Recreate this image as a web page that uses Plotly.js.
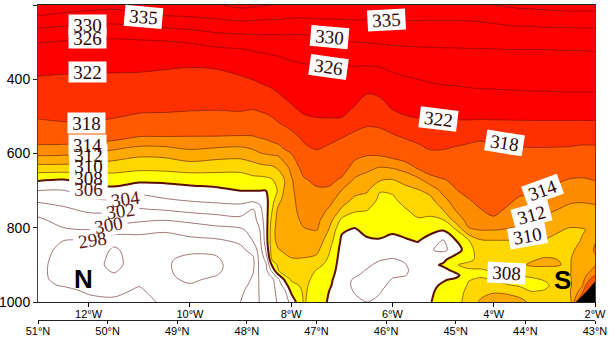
<!DOCTYPE html>
<html>
<head>
<meta charset="utf-8">
<script src="https://cdn.plot.ly/plotly-3.0.1.min.js"></script>
<style>html,body{margin:0;padding:0;background:#fff}#g{width:609px;height:338px}</style>
</head>
<body>
<div id="g"></div>
<script>
const lon = [-13,-12.5,-12,-11.5,-11,-10.5,-10,-9.5,-9,-8.75,-8.62,-8.5,-8.38,-8.25,-8.13,-8,-7.75,-7.5,-7.25,-7,-6.75,-6.5,-6.25,-6,-5.75,-5.5,-5.25,-5,-4.75,-4.5,-4.25,-4,-3.5,-3.25,-3,-2.5,-2.25,-2];
const pressure = [200,240,280,320,360,400,440,480,520,560,600,640,670,700,725,750,780,805,835,860,885,900,915,928,940,955,970,1000];
// potential temperature (K); one row per longitude, one value per pressure level
const theta = [
[339.5,333.3,327.5,324.8,323.2,321.7,320.3,319,317.5,315,312.5,309.1,306.3,304,302.4,300.9,299.6,299.2,299,298.9,298.8,298.7,298.6,298.5,298.4,298.3,298.4,298.6],
[338,332.3,327,324.6,323,321.5,320.3,319.1,317.8,315,312.4,309.1,306,303.9,302.7,301.7,300.7,299.8,298,297.4,297,296.9,297,297.2,297.5,297.9,298.4,299],
[337,331.7,326.8,324.5,322.9,321.4,320.2,319,317.8,314.8,312,308.9,306.7,305,303.7,302.4,301.1,300,297.9,297.4,297,296.8,296.8,297,297.2,297.5,297.8,298.4],
[336.5,331.3,326.6,324.4,322.8,321.4,320.2,319,317.4,314.4,311.2,308.7,307,305.4,304,302.5,300.9,299.1,296.6,295.7,295.5,295.5,295.8,296.2,296.6,297,297.5,298.4],
[338,332.2,326.8,324.5,322.8,321.3,320,318.6,316.5,313.6,310.5,308.4,306.5,304.7,303.2,301.9,300.3,298.5,297.4,297,296.9,296.9,297,297.2,297.5,297.9,298.3,299],
[339,333.3,327.2,324.4,322.5,321.1,319.8,318.5,316.4,313.6,310.6,308.5,306.5,305,303.8,302.2,300,298.3,297.1,296.6,296.3,296.3,296.4,296.5,296.6,296.8,297,297.5],
[339.5,333.8,328,324.5,322.3,320.9,319.6,318.3,316.1,313.6,311.4,308.8,306.8,305.3,304.2,302.7,300.4,298.9,297.5,296.4,295.5,295.2,295.1,295.2,295.6,296.2,296.8,297.6],
[339.5,334.6,329.2,325.3,322.5,320.9,319.5,318.2,316,313.6,311,308.6,307,305.5,304.5,302.9,301,299.3,297.7,296.4,295.7,295.5,295.6,295.9,296.5,296.9,297.2,297.8],
[341.2,335.4,329.7,325.8,323.6,321.5,320,318.4,315.9,313.5,310.8,308.6,307,306,304.6,303.2,301.3,299.7,298.3,297.6,297.2,297.1,297.1,297.2,297.3,297.5,297.7,298],
[340.7,335.2,329.9,326.2,324.2,322.1,320.1,318.1,315.8,313.6,311.4,309,307.5,306,304.5,302,301.2,300.7,300.1,298.6,297.7,297.6,297.9,298.05,298.2,298.4,298.7,299],
[340.5,335,330,326.4,324.4,322.5,320.5,318.4,316.2,313.9,311.9,309.2,307.5,306,304.5,303.5,302.8,302,301.5,301,300.7,300.6,300.5,300.4,300.3,300.3,300.2,300.1],
[340.2,335,330,326.5,324.6,322.8,320.9,318.7,316.5,314.1,312.1,309.4,307.6,306,305.4,305.2,305,305,304.9,304.2,302.5,301.7,301.4,301.1,300.9,300.8,300.7,300.6],
[339.9,334.9,330,326.7,324.8,323.1,321.3,319.2,317,314.5,312.3,309.5,307.9,307.2,307.3,307.8,308.7,309.2,309.3,309,308.3,306.2,304.5,302.5,301.5,301.3,301.2,301],
[339.7,334.9,330,326.8,325,323.4,321.9,319.9,317.8,315,312.4,310.2,308.8,308.2,309.3,310.5,310.8,310.9,310.6,309.9,309,308.5,308,305.7,303.7,303.1,302.8,302.4],
[339.4,334.7,330,327.1,325.3,323.9,322.5,320.7,318.4,315.8,313.3,311.2,310,310.4,310.8,311,311.2,311.1,310.8,310.3,309.5,309.1,308.7,308,306.2,304.9,303.7,303],
[339.2,334.5,330,327.4,325.5,324.2,323,321.5,319.1,316.5,314,312.4,311.8,311.6,311.5,311.5,311.4,311.2,310.9,310.5,309.9,309.5,309.1,308.7,308.2,307.4,306.4,304.6],
[339,334.4,330,327.9,325.9,324.8,323.7,322.6,320.9,318.5,316.7,314.8,313.8,313.4,313,312.7,312.3,311.9,311.1,310.5,309.9,309.4,309.1,308.8,308.6,308.4,308.3,308.2],
[339.2,334.7,330.3,328.1,326.1,325,324.1,322.8,321.4,319.4,317.5,315.8,314.5,313.7,313.3,313,312.5,312.1,311.2,310.5,309.5,308.6,307.9,307.6,307.4,307.2,307.1,306.9],
[339.3,334.7,330.6,328.2,326.2,325,324,322.9,321.4,318.6,317,315.7,314.6,313.6,312.7,311.8,310.8,309.9,309,308.2,307.7,307.4,307.1,306.8,306.5,306.3,306,305.8],
[339.4,334.9,331,328.4,326.1,325.1,324,322.9,321.3,317.9,316.3,315,313.7,311.9,310.9,309.8,307.5,306.3,305.6,305.3,305.1,305,304.9,304.8,304.7,304.7,304.7,304.8],
[339.5,335,331.4,328.6,326.2,324.7,323.3,321.7,319.2,316.9,314.8,313.1,311.8,310.6,309.6,308.4,306.9,305.8,305.4,305.1,304.9,304.7,304.4,304.2,303.8,303.7,303.9,304.3],
[339.5,335,331.4,328.8,326.2,324.1,322,320.2,318.4,316.3,314.3,312.4,311.2,310.2,309.2,308.1,307.3,306.6,305.7,305.2,304.6,304.2,303.9,303.6,303.4,303.3,303.4,304],
[339.5,335,331.9,328.9,326.4,324.3,322.4,320.5,318.6,316.5,314.4,311.8,310.3,308.1,307.6,307.3,306.9,306.4,305.9,305.1,304.1,303.7,303.5,303.4,303.4,303.5,303.8,304.5],
[339.6,335.1,332,329.2,327,325.1,323.6,322.1,319.7,317.2,315,312,310,308.3,307.6,307.2,306.7,306.2,305.7,304.9,303.9,303.7,303.7,303.8,304.1,304.5,305,305.5],
[339.7,335.2,332.1,329.4,327.5,325.6,324.2,322.8,320.9,318,315.6,312.7,310.6,309.4,308.7,307.9,307.2,306.6,305.8,304.8,304.2,303.9,303.7,303.9,304.5,304.9,305.3,305.6],
[339.6,335.1,332.2,329.5,327.8,326,324.5,323.1,321.3,318.8,316.4,314.1,311.5,309.8,309.2,308.6,307.8,307,306.1,305.4,305,304.9,304.8,304.9,305,305.1,305.3,305.6],
[339.6,335.1,332.2,329.6,328,326.3,324.9,323.2,321.5,319.5,317.5,315,313.3,310.6,309.5,308.7,307.6,306.5,305.3,304.1,304.9,305.4,305.2,305.3,305.4,305.5,305.7,305.9],
[339.6,335.1,332.3,329.7,328.2,326.6,325,323.3,321.5,319.4,317.5,315.4,313.9,312.6,311.4,310.1,307.8,306.2,303.8,303.7,305.4,306.3,305.3,304.9,305.8,306.3,306.6,307],
[339.6,335.1,332.3,329.7,328.3,326.7,325.1,323.4,321.5,318.9,317.2,315.8,314.4,313.9,313,312.2,310.8,308,305.9,304.6,307.4,307.9,306.6,305.4,306.4,306.6,306.8,307.2],
[339.7,335.2,332.4,329.8,328.4,326.9,325.3,323.4,321.5,318.4,317.2,316.1,315.3,314.5,313.9,313.3,312.6,311.8,307.8,307.5,307.6,308.4,307.8,307.4,307.9,308.2,308.6,308.9],
[340,335.4,332.5,329.8,328.5,327,325.4,323.5,321.4,318.2,317,316.4,315.7,315,314.5,314,313,312.1,309.8,308.7,308.5,308.3,307.9,307.7,308.3,308.7,309.4,310.3],
[340,335.8,332.6,329.9,328.6,327,325.5,323.6,321.4,318.4,317.4,316.6,316,315.4,315,314.5,313.7,312.1,309.9,309.5,309,308.6,308.1,307.8,307.9,308.5,309.7,311.2],
[341,336.5,333,330,328.6,327.2,325.6,323.6,321.5,318.9,317.3,316.2,315.2,314.4,313.8,313.2,312.5,311.7,309.9,309.7,309.6,309.8,309,308.1,307.6,307.8,308.9,310.8],
[341.3,336.4,333.1,330,328.6,327.2,325.7,323.7,321.5,319,317.3,316,315.1,314.2,313.5,312.9,312.1,311,309.9,309.6,309.9,310.15,309.5,308.3,307.7,307.5,307.9,309.5],
[341.5,336.9,333.1,330,328.6,327.2,325.7,323.7,321.5,319,317.3,316,315,313.9,313.2,312.5,311.6,310.7,309.9,309.6,310.1,310.2,309.5,308.8,308.1,307.6,308.1,309],
[342,337,333.2,330.1,328.7,327.3,325.8,323.7,321.5,319,317.1,315.3,313.9,313,312.3,311.6,310.7,309.8,309.5,309.7,309.9,309.9,309.9,309.9,309.8,309.7,309.8,309],
[342,337,333.3,330.1,328.7,327.3,325.8,323.7,321.5,318.8,316.9,315.1,313.8,312.9,312.2,311.5,310.6,309.9,310.1,310.5,310.7,310.8,310.9,311,311.3,311.8,313,318],
[342,337,333.3,330.2,328.8,327.3,325.8,323.7,321.5,318.8,317,315.4,314.1,313.2,312.4,311.6,310.8,310.3,311.9,312.2,311.7,311.9,312.5,314,316,320,325,330]
];
const terrainLat = [43.27,43.11,43,43,43.27];
const terrainP = [1000,970,946,1000,1000];
const lonTicks = [-12,-10,-8,-6,-4,-2];
const lonTickText = ["12°W","10°W","8°W","6°W","4°W","2°W"];
const latTicks = [51,50,49,48,47,46,45,44,43];
const latTickText = ["51°N","50°N","49°N","48°N","47°N","46°N","45°N","44°N","43°N"];
const pTicks = [200,400,600,800,1000];
const labelText = [330,326,335,322,318,314,312,310,308,306,304,302,300,298,330,326,335,322,318,314,312,310,308];
const labelLon = [-12.03,-12.03,-10.91,-12.03,-12.05,-12.03,-12.01,-12.01,-12.01,-12.01,-11.28,-11.38,-11.6,-11.93,-7.25,-7.27,-6.11,-5.1,-3.78,-3.03,-3.26,-3.34,-3.74];
const labelP = [254,289,232,380,517,577,604,633,666,695,722,754,792,833,286,367,240,507,572,698,765,822,922];
const labelAngle = [0,0,5,0,0,0,0,0,0,0,-8,-8,-10,-8,5,8,-3,7,9,-20,-15,-10,3];

const bandEdges = [296,306,308,310,312,314,318,322,344];
const bandColors = ["#ffffff","#ffff00","#ffd700","#ffaa00","#ff8c00","#ff5a00","#ff3000","#ff0000"];
const zLo = 296, zHi = 344;
const stepped = [];
const stop = v => v<=zLo ? 0 : v>=zHi ? 1 : (v+0.5-zLo)/(zHi-zLo);
bandColors.forEach((c,i)=>{
  stepped.push([stop(bandEdges[i]),c]);
  stepped.push([stop(bandEdges[i+1]),c]);
});
const smooth = 0.9;
const lineTrace = (start,end,size,color,width)=>({
  type:'contour',x:lon,y:pressure,z:theta,transpose:true,autocontour:false,showscale:false,hoverinfo:'skip',
  contours:{coloring:'none',start,end,size},
  line:{color,width,smoothing:smooth}
});
const traces = [
  {type:'contour',x:lon,y:pressure,z:theta,transpose:true,autocontour:false,showscale:false,hoverinfo:'skip',
   zmin:zLo,zmax:zHi,zauto:false,colorscale:stepped,
   contours:{coloring:'fill',start:296,end:342,size:2,showlines:false},
   line:{width:0,smoothing:smooth}},
  lineTrace(296,304,2,'#7a3c3c',0.7),
  lineTrace(308,314,2,'#5a1a10',0.6),
  lineTrace(318,330,4,'#5a1010',0.55),
  lineTrace(335,340,5,'#5a1010',0.55),
  lineTrace(306,306.5,2,'#5a0f00',2),
  {type:'scatter',x:terrainLat,y:terrainP,xaxis:'x2',yaxis:'y',mode:'lines',fill:'toself',fillcolor:'#000000',
   line:{color:'#000000',width:0.5},hoverinfo:'skip',showlegend:false}
];
const labelBoxes = labelText.map((t,i)=>({
  x:labelLon[i],y:labelP[i],xref:'x',yref:'y',text:'&nbsp;',showarrow:false,textangle:labelAngle[i],
  bgcolor:'#ffffff',width:37,height:20,borderpad:0,xanchor:'center',yanchor:'middle',
  font:{family:'"Liberation Serif",serif',size:19,color:'#ffffff'}
}));
const labelNumbers = labelText.map((t,i)=>({
  x:labelLon[i],y:labelP[i],xref:'x',yref:'y',text:String(t),showarrow:false,textangle:labelAngle[i],
  width:37,height:20,borderpad:0,xanchor:'center',yanchor:'middle',
  font:{family:'"Liberation Serif",serif',size:19,color:t<=306?'#5a1414':'#2c0808'}
}));
const annotations = labelBoxes.concat(labelNumbers);
annotations.push(
  {x:-12.1,y:938,xref:'x',yref:'y',text:'<b>N</b>',showarrow:false,font:{family:'"Liberation Sans",Arial,sans-serif',size:26,color:'#000'}},
  {x:-2.65,y:941,xref:'x',yref:'y',text:'<b>S</b>',showarrow:false,font:{family:'"Liberation Sans",Arial,sans-serif',size:26,color:'#000'}}
);
const sans = '"Liberation Sans",Arial,sans-serif';
const layout = {
  width:609,height:338,margin:{l:38,r:14,t:5,b:18,pad:0},
  paper_bgcolor:'#ffffff',plot_bgcolor:'#ffffff',showlegend:false,
  xaxis:{range:[-13,-2],anchor:'y',tickmode:'array',tickvals:lonTicks,ticktext:lonTickText,ticks:'outside',ticklen:4,tickwidth:1,ticklabelstandoff:-2,
    tickcolor:'#000',linecolor:'#222',linewidth:1,mirror:true,showgrid:false,zeroline:false,tickfont:{family:sans,size:11,color:'#000'}},
  xaxis2:{range:[51,43],overlaying:'x',anchor:'free',position:0,side:'bottom',tickmode:'array',tickvals:latTicks,ticktext:latTickText,
    ticks:'outside',ticklen:3,tickwidth:1,ticklabelstandoff:-2,tickcolor:'#000',linecolor:'#222',linewidth:1,showgrid:false,zeroline:false,tickfont:{family:sans,size:11,color:'#000'}},
  yaxis:{range:[1000,200],domain:[0.0571,1],tickmode:'array',tickvals:pTicks,ticks:'outside',ticklen:4,tickwidth:1,tickcolor:'#222',
    linecolor:'#444',linewidth:1,mirror:true,showgrid:false,zeroline:false,tickfont:{family:sans,size:14,color:'#000'}},
  annotations
};
Plotly.newPlot('g',traces,layout,{staticPlot:true,displayModeBar:false});
</script>
</body>
</html>
